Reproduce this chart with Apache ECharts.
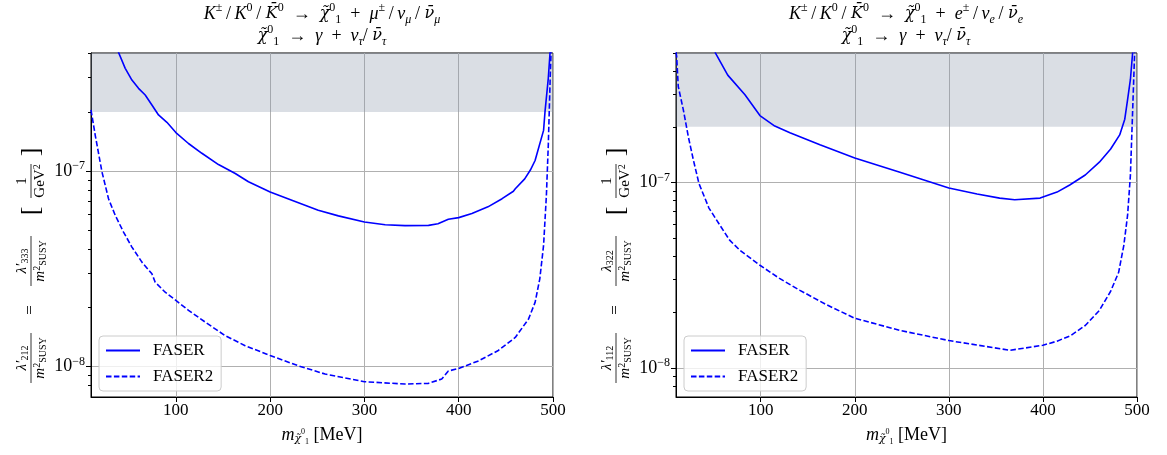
<!DOCTYPE html>
<html><head><meta charset="utf-8">
<script src="https://cdn.jsdelivr.net/npm/echarts@6/dist/echarts.min.js"></script>
<style>html,body{margin:0;padding:0;background:#fff}#c{width:1167px;height:455px}</style>
</head><body><div id="c"></div>
<script>
// ---------- data ----------
const xTicks = [100, 200, 300, 400, 500];
const yMajorExp = [-8, -7];
const seriesNames = ['FASER', 'FASER2'];
const bandLow = 2e-7;

const leftFaserX  = [39, 46.3, 53.4, 60.4, 67.5, 74.6, 81.6, 90.5, 100, 113.4, 127.6, 145.2, 163, 177, 200, 223, 251, 272.4, 300, 322, 343, 368, 378, 389, 400, 414, 431, 446, 458, 460, 470, 476, 481, 490, 491.5, 495, 497];
const leftFaserY  = [4.05e-7, 3.34e-7, 2.91e-7, 2.64e-7, 2.44e-7, 2.17e-7, 1.93e-7, 1.77e-7, 1.57e-7, 1.38e-7, 1.23e-7, 1.077e-7, 9.7e-8, 8.8e-8, 7.8e-8, 7.08e-8, 6.29e-8, 5.89e-8, 5.48e-8, 5.31e-8, 5.25e-8, 5.27e-8, 5.37e-8, 5.66e-8, 5.77e-8, 6.05e-8, 6.55e-8, 7.21e-8, 7.87e-8, 8.1e-8, 9.1e-8, 1.01e-7, 1.13e-7, 1.61e-7, 2.0e-7, 2.97e-7, 4.1e-7];
const leftFaser2X = [10, 14.5, 21.6, 28.6, 35.7, 44.5, 53.4, 64, 74.6, 78.1, 88.7, 100, 113.4, 131.1, 152.3, 173.5, 200, 230, 258.3, 300, 343, 368, 382, 389, 400, 421, 442, 460, 474, 481, 486, 490, 493, 495, 497, 498];
const leftFaser2Y = [2.05e-7, 1.52e-7, 9.9e-8, 7.2e-8, 5.93e-8, 4.87e-8, 4.08e-8, 3.42e-8, 2.98e-8, 2.70e-8, 2.40e-8, 2.18e-8, 1.94e-8, 1.69e-8, 1.44e-8, 1.28e-8, 1.14e-8, 1.01e-8, 9.17e-9, 8.38e-9, 8.15e-9, 8.22e-9, 8.65e-9, 9.5e-9, 9.8e-9, 1.07e-8, 1.21e-8, 1.41e-8, 1.75e-8, 2.13e-8, 2.81e-8, 4.16e-8, 7.5e-8, 1.35e-7, 2.97e-7, 4.1e-7];

const rightFaserX  = [51.4, 65, 83.3, 99.2, 115, 131.1, 163, 200, 248, 300, 330, 354, 370, 397, 415, 428.5, 445, 460, 472, 481.6, 487, 490, 493, 495.4];
const rightFaserY  = [5.05e-7, 3.8e-7, 2.98e-7, 2.3e-7, 2.02e-7, 1.86e-7, 1.60e-7, 1.36e-7, 1.14e-7, 9.36e-8, 8.7e-8, 8.26e-8, 8.1e-8, 8.26e-8, 8.9e-8, 9.72e-8, 1.1e-7, 1.29e-7, 1.52e-7, 1.81e-7, 2.2e-7, 2.80e-7, 3.6e-7, 5.05e-7];
const rightFaser2X = [10, 10.7, 12.4, 17.8, 23.1, 28.4, 34.4, 45, 56.7, 67, 78, 99.2, 120, 141.7, 170, 200, 248, 300, 365, 400, 415, 429.5, 445, 460, 472, 480.5, 486, 490, 493, 495.4, 497.5];
const rightFaser2Y = [5.05e-7, 4.8e-7, 3.30e-7, 2.47e-7, 1.77e-7, 1.33e-7, 9.9e-8, 7.3e-8, 5.9e-8, 4.9e-8, 4.32e-8, 3.59e-8, 3.05e-8, 2.63e-8, 2.2e-8, 1.86e-8, 1.60e-8, 1.41e-8, 1.25e-8, 1.33e-8, 1.4e-8, 1.50e-8, 1.7e-8, 2.05e-8, 2.6e-8, 3.29e-8, 4.6e-8, 6.68e-8, 1.1e-7, 2.47e-7, 5.05e-7];

const leftYRange  = [7e-9, 4e-7];
const rightYRange = [7e-9, 5e-7];
const minorLeft  = [8e-9, 9e-9, 2e-8, 3e-8, 4e-8, 5e-8, 6e-8, 7e-8, 8e-8, 9e-8, 2e-7, 3e-7, 4e-7];
const minorRight = [8e-9, 9e-9, 2e-8, 3e-8, 4e-8, 5e-8, 6e-8, 7e-8, 8e-8, 9e-8, 2e-7, 3e-7, 4e-7, 5e-7];

// ---------- styles ----------
const F = 'Liberation Serif';
const FA = 'DejaVu Serif';
const BLUE = '#0000ff';
const grids = [
  {left: 91, top: 53, width: 462, height: 344},
  {left: 676, top: 53, width: 461, height: 344}
];
const pairs = (xs, ys) => xs.map((x, i) => [x, ys[i]]);

const titleRich = {
  i:  {fontFamily: F, fontStyle: 'italic', fontSize: 18, lineHeight: 24, color: '#000'},
  a:  {fontFamily: FA, fontStyle: 'italic', fontSize: 16, lineHeight: 24, color: '#000'},
  r:  {fontFamily: F, fontSize: 18, lineHeight: 24, color: '#000'},
  sp: {fontFamily: F, fontSize: 12, lineHeight: 14, verticalAlign: 'top', color: '#000'},
  sb: {fontFamily: F, fontStyle: 'italic', fontSize: 12, lineHeight: 14, verticalAlign: 'bottom', color: '#000'},
  sbr:{fontFamily: F, fontSize: 12, lineHeight: 14, verticalAlign: 'bottom', color: '#000'}
};
const tickRich = {
  b: {fontFamily: F, fontSize: 18, lineHeight: 22, color: '#000'},
  e: {fontFamily: F, fontSize: 12, lineHeight: 12, verticalAlign: 'top', color: '#000'}
};
const labRich = {
  i:  {fontFamily: F, fontStyle: 'italic', fontSize: 15, lineHeight: 16, color: '#000'},
  r:  {fontFamily: F, fontSize: 15, lineHeight: 16, color: '#000'},
  sp: {fontFamily: F, fontSize: 10, lineHeight: 9, verticalAlign: 'top', color: '#000'},
  sbr:{fontFamily: F, fontSize: 10, lineHeight: 9, verticalAlign: 'bottom', color: '#000'}
};
const xNameRich = {
  i:  {fontFamily: F, fontStyle: 'italic', fontSize: 18, lineHeight: 22, color: '#000'},
  r:  {fontFamily: F, fontSize: 18, lineHeight: 22, color: '#000'},
  c:  {fontFamily: FA, fontStyle: 'italic', fontSize: 11, lineHeight: 12, verticalAlign: 'bottom', padding: [0, 0, 1, 0], color: '#000'},
  o:  {fontFamily: F, fontSize: 8, lineHeight: 8, verticalAlign: 'bottom', padding: [0, 0, 10, 0], color: '#000'},
  u:  {fontFamily: F, fontSize: 8, lineHeight: 8, verticalAlign: 'bottom', color: '#000'}
};

function titleTexts(cx, lepton) {
  const sp = '\u2002', t = '\u2009';
  const l1 = '{i|K}{sp|±}{r|' + t + '/' + t + '}{i|K}{sp|0}{r|' + t + '/ }{a|K\u0304}{sp|0}{r|' + sp + '→' + sp + '}{a|χ\u0303}{sp|0}{sbr|1}{r|' + sp + '+' + sp + '}{i|' + lepton + '}{sp|±}{r|' + t + '/' + t + '}{i|ν}{sb|' + lepton + '}{r|' + t + '/ }{a|ν\u0304}{sb|' + lepton + '}';
  const l2 = '{a|χ\u0303}{sp|0}{sbr|1}{r|' + sp + '→' + sp + '}{i|γ}{r|' + sp + '+' + sp + '}{i|ν}{sb|τ}{r|/ }{a|ν\u0304}{sb|τ}';
  return [
    {type: 'text', x: cx, y: 14, style: {text: l1, rich: titleRich, align: 'center', verticalAlign: 'middle'}},
    {type: 'text', x: cx, y: 36, style: {text: l2, rich: titleRich, align: 'center', verticalAlign: 'middle'}}
  ];
}
function frac(cx, num, den, w) {
  return [
    {type: 'text', x: cx, y: -1, style: {text: num, rich: labRich, align: 'center', verticalAlign: 'bottom'}},
    {type: 'line', shape: {x1: cx - w / 2, y1: 0, x2: cx + w / 2, y2: 0}, style: {stroke: '#000', lineWidth: 0.8}},
    {type: 'text', x: cx, y: 1, style: {text: den, rich: labRich, align: 'center', verticalAlign: 'top'}}
  ];
}
function yLabel(x, y, lam1, lam2) {
  const den = '{i|m}{sp|2}{sbr|SUSY}';
  const children = [].concat(
    frac(-93, lam1, den, 50),
    [{type: 'text', x: -45, y: 0, style: {text: '=', font: '17px "' + F + '"', fill: '#000', align: 'center', verticalAlign: 'middle'}}],
    frac(4, lam2, den, 50),
    [{type: 'text', x: 54, y: 0, style: {text: '[', font: '26px "' + F + '"', fill: '#000', align: 'center', verticalAlign: 'middle'}}],
    frac(84, '{r|1}', '{r|GeV}{sp|2}', 34),
    [{type: 'text', x: 113, y: 0, style: {text: ']', font: '26px "' + F + '"', fill: '#000', align: 'center', verticalAlign: 'middle'}}]
  );
  return {type: 'group', x: x, y: y, rotation: Math.PI / 2, children: children};
}

function xAxisCfg(gi) {
  return {
    type: 'value', gridIndex: gi, min: 10, max: 500,
    name: '{i|m}{c|χ\u0303}{o|0}{u|1}{r| [MeV]}', nameLocation: 'middle', nameGap: 27,
    nameTextStyle: {rich: xNameRich},
    axisLine: {show: true, onZero: false, lineStyle: {color: '#000', width: 1}},
    axisTick: {show: true, length: 5, customValues: xTicks, lineStyle: {color: '#000'}},
    axisLabel: {customValues: xTicks, fontFamily: F, fontSize: 17, color: '#000', margin: 5},
    splitLine: {show: true, lineStyle: {color: '#b0b0b0', width: 1}}
  };
}
// the log axis that the series are drawn on
function yAxisLog(gi, range) {
  return {
    type: 'log', logBase: 10, gridIndex: gi, min: range[0], max: range[1], position: 'left',
    axisLine: {show: true, lineStyle: {color: '#000', width: 1}},
    axisTick: {show: false}, axisLabel: {show: false}, splitLine: {show: false}
  };
}
// decade ticks / labels / grid lines (same extent, in log10 units)
function yAxisMajor(gi, range) {
  return {
    type: 'value', gridIndex: gi, position: 'left',
    min: Math.log10(range[0]), max: Math.log10(range[1]),
    axisLine: {show: false},
    axisTick: {show: true, length: 5, customValues: yMajorExp, lineStyle: {color: '#000'}},
    axisLabel: {customValues: yMajorExp, margin: 6, formatter: v => '{b|10}{e|−' + Math.round(-v) + '}', rich: tickRich},
    splitLine: {show: true, lineStyle: {color: '#b0b0b0', width: 1}}
  };
}
function yAxisMinor(gi, range, vals) {
  return {
    type: 'value', gridIndex: gi, position: 'left',
    min: Math.log10(range[0]), max: Math.log10(range[1]),
    axisLine: {show: false},
    axisTick: {show: true, length: 3, customValues: vals.map(v => Math.log10(v)), lineStyle: {color: '#000'}},
    axisLabel: {show: false},
    splitLine: {show: false}
  };
}
function lineSeries(name, xi, yi, data, dashed, band) {
  const s = {
    name: name, type: 'line', xAxisIndex: xi, yAxisIndex: yi, data: data,
    symbol: 'none', smooth: false, z: 3,
    lineStyle: {color: BLUE, width: 1.6, type: dashed ? [5.5, 2.4] : 'solid'},
    itemStyle: {color: BLUE}
  };
  if (band) {
    s.markArea = {silent: true, itemStyle: {color: 'rgba(140,152,170,0.32)'},
      data: [[{yAxis: bandLow}, {yAxis: band}]]};
  }
  return s;
}
function legendCfg(left) {
  return {
    data: seriesNames, orient: 'vertical', left: left, top: 336,
    itemWidth: 34, itemHeight: 12, itemGap: 9,
    padding: [6, 8, 6, 6],
    itemStyle: {opacity: 0, color: 'transparent', borderWidth: 0},
    backgroundColor: 'rgba(255,255,255,0.8)', borderColor: '#cccccc', borderWidth: 1, borderRadius: 4,
    textStyle: {fontFamily: F, fontSize: 17, color: '#000', padding: [0, 0, 0, 8]}
  };
}

const chart = echarts.init(document.getElementById('c'), null, {renderer: 'canvas'});
chart.setOption({
  animation: false,
  backgroundColor: '#fff',
  grid: grids.map(g => Object.assign({show: true, borderColor: '#000', borderWidth: 1, backgroundColor: 'transparent'}, g)),
  xAxis: [xAxisCfg(0), xAxisCfg(1)],
  yAxis: [
    yAxisLog(0, leftYRange), yAxisMajor(0, leftYRange), yAxisMinor(0, leftYRange, minorLeft),
    yAxisLog(1, rightYRange), yAxisMajor(1, rightYRange), yAxisMinor(1, rightYRange, minorRight)
  ],
  legend: [legendCfg(99), legendCfg(684)],
  series: [
    lineSeries('FASER', 0, 0, pairs(leftFaserX, leftFaserY), false, leftYRange[1]),
    lineSeries('FASER2', 0, 0, pairs(leftFaser2X, leftFaser2Y), true, null),
    lineSeries('FASER', 1, 3, pairs(rightFaserX, rightFaserY), false, rightYRange[1]),
    lineSeries('FASER2', 1, 3, pairs(rightFaser2X, rightFaser2Y), true, null)
  ],
  graphic: [].concat(
    titleTexts(322, 'μ'),
    titleTexts(906, 'e'),
    [yLabel(31, 265, '{i|λ′}{sbr|212}', '{i|λ′}{sbr|333}'),
     yLabel(616, 265, '{i|λ′}{sbr|112}', '{i|λ}{sbr|322}')]
  )
});
</script>
</body></html>
